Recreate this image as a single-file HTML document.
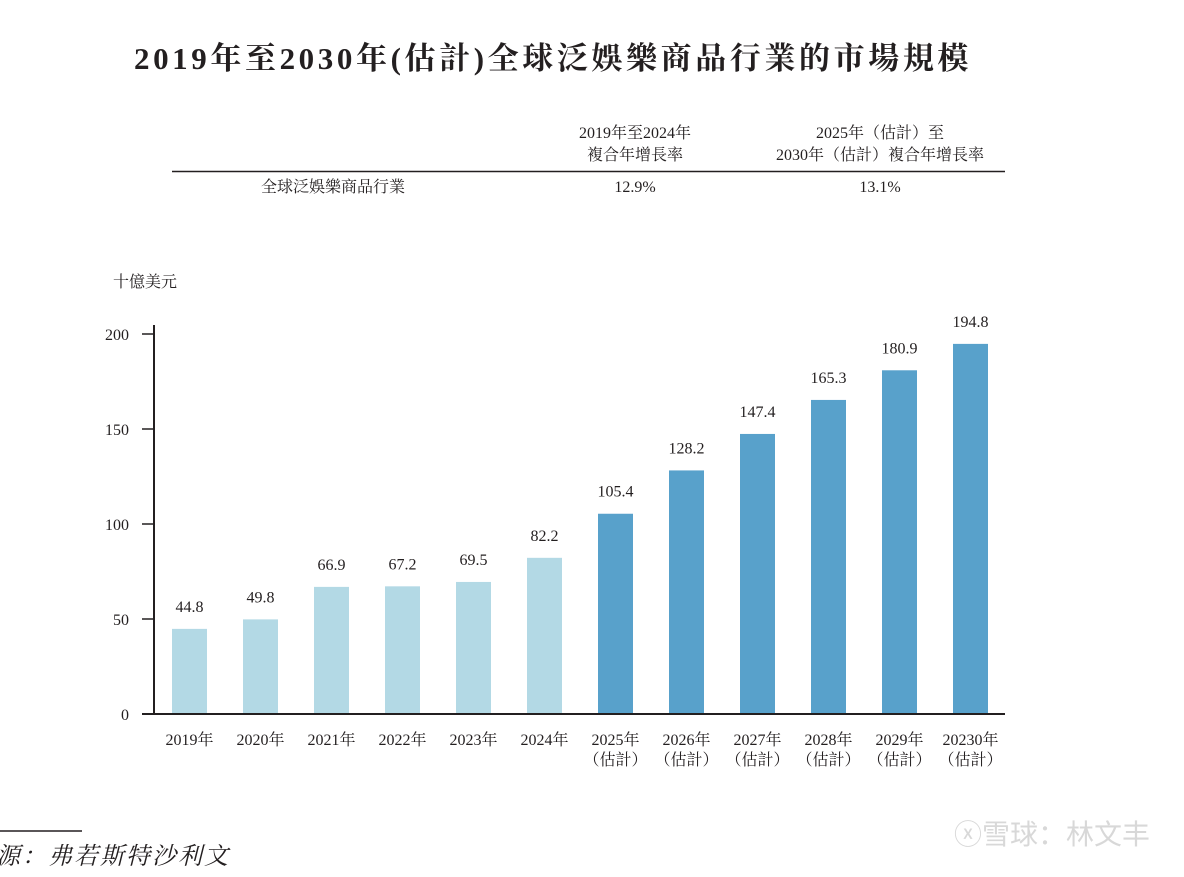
<!DOCTYPE html>
<html><head><meta charset="utf-8"><style>
body{margin:0;background:#fff;width:1184px;height:872px;overflow:hidden;font-family:"Liberation Serif","Noto Serif CJK SC",serif;color:#231f20}
svg text{font-family:"Liberation Serif","Noto Serif CJK SC",serif;fill:#231f20}
</style></head><body>
<svg width="1184" height="872">
<text x="553" y="69" text-anchor="middle" font-size="31" font-weight="bold" letter-spacing="3.6">2019年至2030年(估計)全球泛娛樂商品行業的市場規模</text>
<g>
<text x="635" y="138" text-anchor="middle" font-size="16">2019年至2024年</text>
<text x="635" y="160" text-anchor="middle" font-size="16">複合年增長率</text>
<text x="880" y="138" text-anchor="middle" font-size="16">2025年（估計）至</text>
<text x="880" y="160" text-anchor="middle" font-size="16">2030年（估計）複合年增長率</text>
<line x1="172" y1="171.5" x2="1005" y2="171.5" stroke="#231f20" stroke-width="1.5"/>
<text x="333" y="192" text-anchor="middle" font-size="16">全球泛娛樂商品行業</text>
<text x="635" y="192" text-anchor="middle" font-size="16">12.9%</text>
<text x="880" y="192" text-anchor="middle" font-size="16">13.1%</text>
</g>
<text x="113" y="287" font-size="16">十億美元</text>
<g id="plot"></g>
<line x1="0" y1="831" x2="82" y2="831" stroke="#231f20" stroke-width="1.5"/>
<text x="-4" y="864" font-size="24" font-style="italic" letter-spacing="2">源：弗若斯特沙利文</text>
<text x="1150" y="844" text-anchor="end" font-size="28" style="fill:#d8d8d8;font-family:'Noto Sans CJK SC',sans-serif">ⓧ雪球：林文丰</text>
</svg>
<script>
const categories=["2019年","2020年","2021年","2022年","2023年","2024年","2025年","2026年","2027年","2028年","2029年","20230年"];
const estimated=[false,false,false,false,false,false,true,true,true,true,true,true];
const values=[44.8,49.8,66.9,67.2,69.5,82.2,105.4,128.2,147.4,165.3,180.9,194.8];
const yTicks=[0,50,100,150,200];
const NS="http://www.w3.org/2000/svg";
const g=document.getElementById('plot');
const y=v=>714-v*1.9;
const x=i=>172+i*71;
function mk(t,a,txt){const e=document.createElementNS(NS,t);for(const k in a)e.setAttribute(k,a[k]);if(txt!=null)e.textContent=txt;g.appendChild(e);return e;}
yTicks.forEach(t=>{
 const l=mk('line',{x1:142,x2:154,y1:y(t),y2:y(t),stroke:'#231f20','stroke-width':1.5});
 
 
 const tx=mk('text',{x:129,y:y(t)+6,'text-anchor':'end','font-size':16},String(t));
 
 
});
values.forEach((v,i)=>{
 const r=mk('rect',{x:x(i),y:y(v),width:35,height:714-y(v),fill:estimated[i]?'#58a1cb':'#b3d9e5'});
 
 
 const lb=mk('text',{x:x(i)+17.5,y:y(v)-17,'text-anchor':'middle','font-size':16},v.toFixed(1));
 
 
 const cl=mk('text',{x:x(i)+17.5,y:745,'text-anchor':'middle','font-size':16},categories[i]);
 
 
 if(estimated[i]){
  const e=mk('text',{x:x(i)+17.5,y:765,'text-anchor':'middle','font-size':16},'（估計）');
  
  
 }
});
const ax=mk('line',{x1:154,x2:154,y1:325,y2:714,stroke:'#231f20','stroke-width':2});


const bx=mk('line',{x1:142,x2:1005,y1:714,y2:714,stroke:'#231f20','stroke-width':2});


</script>
</body></html>
